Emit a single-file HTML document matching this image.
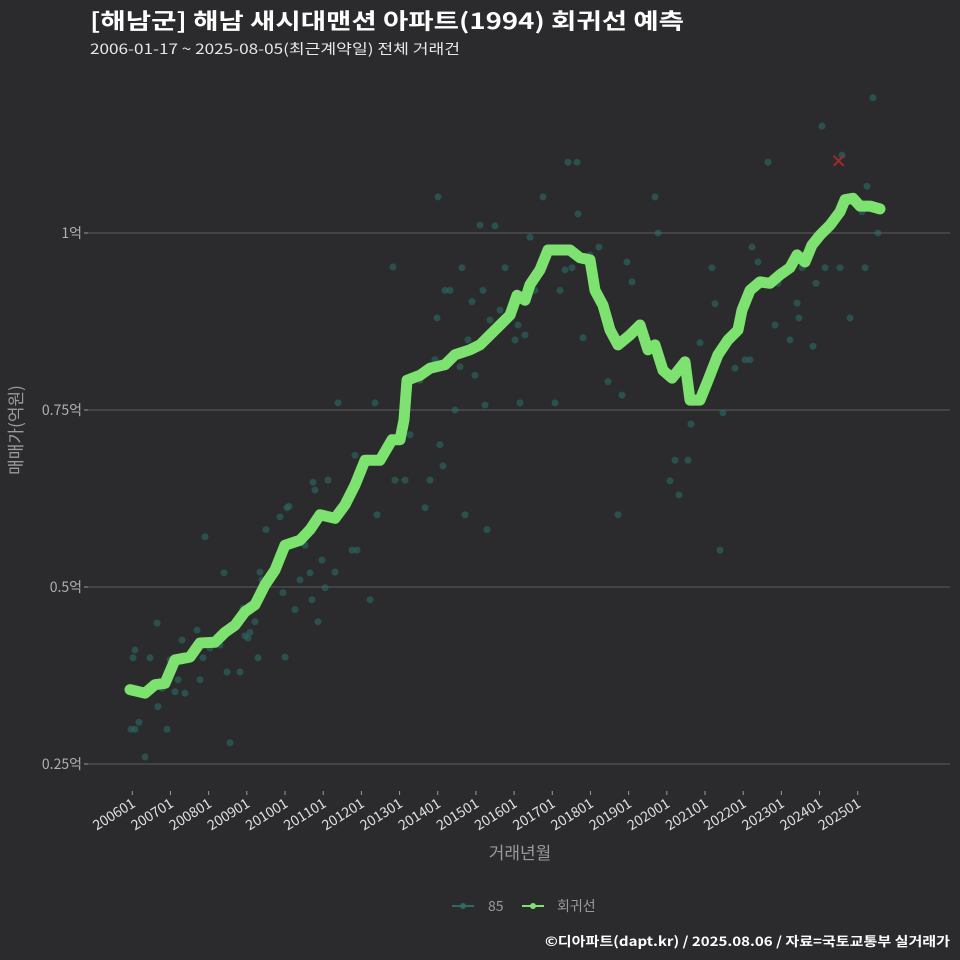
<!DOCTYPE html>
<html><head><meta charset="utf-8">
<style>
body{margin:0;background:#2b2b2d;}
svg{display:block;font-family:"Noto Sans CJK KR","Liberation Sans",sans-serif;}
</style></head>
<body>
<svg id="chart" width="960" height="960" viewBox="0 0 960 960">
<rect width="960" height="960" fill="#2b2b2d"/>
<text x="90" y="29" fill="#ffffff" font-size="22" font-weight="bold" textLength="594" lengthAdjust="spacingAndGlyphs">[해남군] 해남 새시대맨션 아파트(1994) 회귀선 예측</text>
<text x="90" y="54" fill="#e8e8e8" font-size="14" textLength="370" lengthAdjust="spacingAndGlyphs">2006-01-17 ~ 2025-08-05(최근계약일) 전체 거래건</text>
<g id="grid"></g>
<g id="xaxis"></g>
<g id="scatter"></g>
<g id="line"></g>
<text x="0" y="0" transform="translate(22,430) rotate(-90)" text-anchor="middle" fill="#9a9a9a" font-size="17">매매가(억원)</text>
<text x="520" y="859" text-anchor="middle" fill="#9a9a9a" font-size="17">거래년월</text>
<g>
<g>
<line x1="452" y1="906" x2="474" y2="906" stroke="#2a6b64" stroke-width="2"/>
<circle cx="463" cy="906" r="3" fill="#2a6b64"/>
<text x="488" y="911" fill="#9a9a9a" font-size="14">85</text></g>
<g>
<line x1="522" y1="906" x2="544" y2="906" stroke="#7de36f" stroke-width="2"/>
<circle cx="533" cy="906" r="3" fill="#7de36f"/>
<text x="557" y="911" fill="#9a9a9a" font-size="14">회귀선</text></g>
</g>
<text x="950" y="946" text-anchor="end" fill="#ffffff" font-size="13" font-weight="bold" textLength="405" lengthAdjust="spacingAndGlyphs">©디아파트(dapt.kr) / 2025.08.06 / 자료=국토교통부 실거래가</text>
</svg>
<script>
const yTicks=[1,0.75,0.5,0.25];
const yTickLabels=["1억","0.75억","0.5억","0.25억"];
const xTickYears=[2006,2007,2008,2009,2010,2011,2012,2013,2014,2015,2016,2017,2018,2019,2020,2021,2022,2023,2024,2025];
const xTickLabels=xTickYears.map(y=>y+"01");
const lineX=[130,145,155,165,175,190,200,215,225,235,245,255,265,275,285,300,310,320,335,345,355,365,380,392,400,404,407,420,430,445,455,470,480,490,500,510,517,525,530,540,548,560,570,580,590,595,603,610,618,630,640,648,655,663,672,685,690,700,708,718,728,738,742,750,760,770,780,790,797,805,812,820,830,840,845,853,860,870,880];
const lineYpx=[690,693,685,683,660,657,643,642,632,625,612,605,585,570,545,540,530,515,518,505,485,460,460,440,440,420,380,375,368,365,355,350,345,335,325,315,295,300,285,270,250,250,250,258,260,290,305,330,345,335,325,350,345,370,378,362,400,400,380,355,340,330,310,290,282,283,275,268,255,262,245,235,225,212,200,198,206,206,209];
const scatterPx=[[133,658],[135,650],[131,729],[135,729],[139,722],[145,757],[150,658],[152,684],[157,623],[158,707],[162,688],[167,729],[170,660],[175,692],[178,680],[182,640],[185,693],[197,630],[200,680],[203,658],[205,537],[210,648],[220,645],[224,573],[227,672],[230,743],[240,672],[243,608],[245,636],[248,638],[250,632],[255,622],[258,658],[260,572],[262,580],[266,530],[280,517],[283,593],[285,657],[287,508],[289,506],[295,610],[300,580],[305,545],[310,573],[312,600],[313,482],[315,490],[318,622],[322,560],[325,588],[328,480],[335,572],[338,403],[345,500],[352,550],[355,455],[357,550],[362,470],[370,600],[375,403],[377,515],[380,460],[393,267],[395,480],[405,480],[410,435],[420,380],[425,508],[430,480],[435,360],[437,318],[438,197],[440,445],[443,466],[445,290],[450,290],[455,410],[460,367],[462,268],[465,515],[468,340],[472,302],[475,375],[480,225],[483,290],[485,405],[487,530],[490,320],[495,226],[500,310],[505,268],[515,340],[518,325],[520,403],[525,335],[530,237],[535,290],[543,197],[555,403],[560,290],[565,270],[568,162],[572,268],[577,162],[578,214],[583,338],[590,255],[599,247],[605,315],[608,382],[618,515],[622,395],[627,262],[632,282],[655,197],[658,233],[670,481],[675,460],[679,495],[688,460],[691,424],[700,343],[712,268],[715,304],[720,550],[723,413],[735,368],[745,360],[750,360],[752,247],[758,262],[768,162],[775,325],[778,283],[790,340],[797,303],[799,318],[802,268],[813,346],[816,283],[822,126],[825,268],[840,268],[842,155],[850,318],[862,212],[865,268],[867,186],[873,98],[878,233]];
const lineT=lineX.map(x=>+(2006+(x-132.3)/38.18).toFixed(3));
const lineV=lineYpx.map(y=>+(1-(y-233)/708).toFixed(3));
const scatterT=scatterPx.map(p=>+(2006+(p[0]-132.3)/38.18).toFixed(3));
const scatterV=scatterPx.map(p=>+(1-(p[1]-233)/708).toFixed(3));
const latestT=[2024.5];
const latestV=[1.102];

const NS="http://www.w3.org/2000/svg";
const xS=t=>132.3+(t-2006)*38.18;
const yS=v=>233+(1-v)*708;
function mk(tag,attrs,parent){const e=document.createElementNS(NS,tag);for(const k in attrs)e.setAttribute(k,attrs[k]);parent.appendChild(e);return e;}
const grid=document.getElementById('grid');
yTicks.forEach((v,i)=>{
  const l=mk('line',{x1:88,x2:950,y1:yS(v),y2:yS(v),stroke:'#5e5e60','stroke-width':1},grid);
  
  
  mk('line',{x1:84,x2:88,y1:yS(v),y2:yS(v),stroke:'#9a9a9a'},grid);
  const t=mk('text',{x:82,y:yS(v)+5,'text-anchor':'end',fill:'#b0b0b0','font-size':14},grid);
  t.textContent=yTickLabels[i];
  
  
});
const xa=document.getElementById('xaxis');
xTickYears.forEach((yr,i)=>{
  const x=xS(yr);
  mk('line',{x1:x,x2:x,y1:791,y2:795,stroke:'#9a9a9a'},xa);
  const t=mk('text',{x:0,y:0,transform:`translate(${x+4},${806}) rotate(-32)`,'text-anchor':'end',fill:'#e0e0e0','font-size':14},xa);
  t.textContent=xTickLabels[i];
  
  
});
const sc=document.getElementById('scatter');
scatterT.forEach((t,i)=>{
  const c=mk('circle',{cx:xS(t),cy:yS(scatterV[i]),r:3.5,fill:'#2a6b64','fill-opacity':0.6},sc);
  
  
});
const lg=document.getElementById('line');
const p=mk('polyline',{points:lineT.map((t,i)=>xS(t)+','+yS(lineV[i])).join(' '),fill:'none',stroke:'#7de36f','stroke-width':11,'stroke-linejoin':'round','stroke-linecap':'round'},lg);


latestT.forEach((t,i)=>{
  const x=xS(t),y=yS(latestV[i]);
  const g=mk('g',{},lg);
  
  
  mk('line',{x1:x-5,y1:y-5,x2:x+5,y2:y+5,stroke:'#a02a2a','stroke-width':2},g);
  mk('line',{x1:x-5,y1:y+5,x2:x+5,y2:y-5,stroke:'#a02a2a','stroke-width':2},g);
});
</script>
</body></html>
